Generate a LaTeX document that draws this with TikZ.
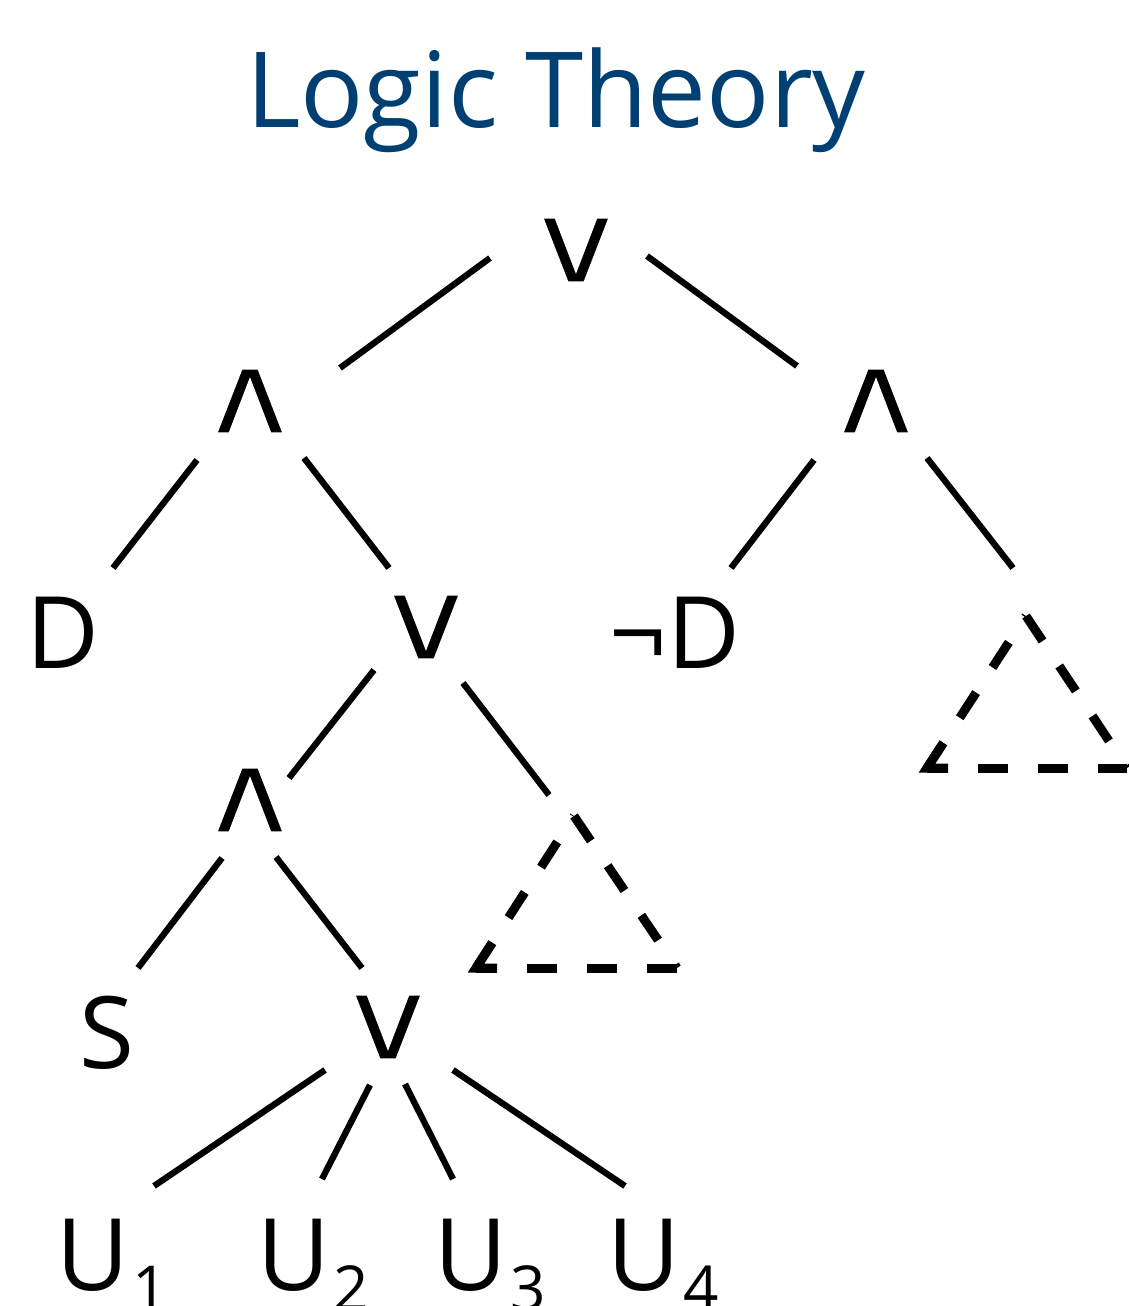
\documentclass[tikz,border=0pt]{standalone}
\usepackage{fontspec}
\setmainfont{Open Sans}
\newfontfamily\symfont{DejaVu Sans Mono}
\usetikzlibrary{calc}
\definecolor{titleblue}{RGB}{0,63,114}
\newcommand\usub[1]{U\kern3pt\raisebox{-20pt}{\fontsize{62}{62}\selectfont #1}}
\newcommand\opglyph[1]{\scalebox{1.38}[1]{\special{pdf:literal direct 2 Tr 1 1 1 RG 2.5 w}#1\special{pdf:literal direct 0 Tr 0 0 0 RG}}}
\begin{document}
\begin{tikzpicture}[x=1pt,y=-1pt,
  lbl/.style={inner sep=0pt, anchor=base, font=\fontsize{100}{100}\selectfont},
  op/.style={inner sep=0pt, font=\symfont\fontsize{113}{113}\selectfont},
  edge/.style={line width=6.3pt},
  tri/.style={line width=9pt, dash pattern=on 30pt off 30pt},
  trib/.style={line width=9pt, dash pattern=on 30pt off 30pt, dash phase=9pt},
  tric/.style={line width=9pt, miter limit=10, line join=miter}]
\useasboundingbox (0,0) rectangle (1128,1306);

\node[inner sep=0pt, anchor=base, text=titleblue, font=\fontsize{105}{105}\selectfont] (title) at (556,127) {Logic Theory};

\node[op] (root) at (576,250) {\opglyph{∨}};
\node[op] (andL) at (250,401) {\opglyph{∧}};
\node[op] (andR) at (876,401) {\opglyph{∧}};
\node[op] (orM) at (426,627) {\opglyph{∨}};
\node[op] (andLow) at (250,800) {\opglyph{∧}};
\node[op] (orLow) at (388,1027) {\opglyph{∨}};
\node[lbl] (D) at (63,668) {D};
\node[lbl] (notD) at (675,668) {¬D};
\node[lbl] (S) at (107,1068) {S};
\node[lbl] (U1) at (112,1290) {\usub{1}};
\node[lbl] (U2) at (313,1290) {\usub{2}};
\node[lbl] (U3) at (490,1290) {\usub{3}};
\node[lbl] (U4) at (663,1290) {\usub{4}};

\coordinate (t1T) at (574,816);
\coordinate (t1L) at (476,968);
\coordinate (t1R) at (677,968);
\coordinate (t2T) at (1026,616);
\coordinate (t2L) at (927,768);
\coordinate (t2R) at (1127,768);

\draw[edge] ($(root)+(-86,8)$) -- ($(andL)+(90,-33)$);
\draw[edge] ($(root)+(71,6)$) -- ($(andR)+(-79,-35)$);
\draw[edge] ($(andL)+(-53,59)$) -- ($(D.base)+(50,-100)$);
\draw[edge] ($(andL)+(54,57)$) -- ($(orM)+(-37,-59)$);
\draw[edge] ($(andR)+(-62,59)$) -- ($(notD.base)+(56,-100)$);
\draw[edge] ($(andR)+(51,57)$) -- ($(t2T)+(-13,-48)$);
\draw[edge] ($(orM)+(-52,43)$) -- ($(andLow)+(39,-22)$);
\draw[edge] ($(orM)+(37,56)$) -- ($(t1T)+(-25,-21)$);
\draw[edge] ($(andLow)+(-28,58)$) -- ($(S.base)+(31,-100)$);
\draw[edge] ($(andLow)+(26,57)$) -- ($(orLow)+(-26,-59)$);
\draw[edge] ($(orLow)+(-63,43)$) -- ($(U1.base)+(42,-104)$);
\draw[edge] ($(orLow)+(-18,58)$) -- ($(U2.base)+(9,-111)$);
\draw[edge] ($(orLow)+(17,57)$) -- ($(U3.base)+(-37,-111)$);
\draw[edge] ($(orLow)+(65,43)$) -- ($(U4.base)+(-38,-104)$);

\foreach \t in {t1,t2} {
  \draw[tri] (\t L) -- (\t T);
  \draw[tri] (\t T) -- (\t R);
  \draw[trib] (\t L) -- (\t R);
  \draw[tric] ($(\t L)!30pt!(\t T)$) -- (\t L) -- ($(\t L)!21pt!(\t R)$);
}
\end{tikzpicture}
\end{document}
